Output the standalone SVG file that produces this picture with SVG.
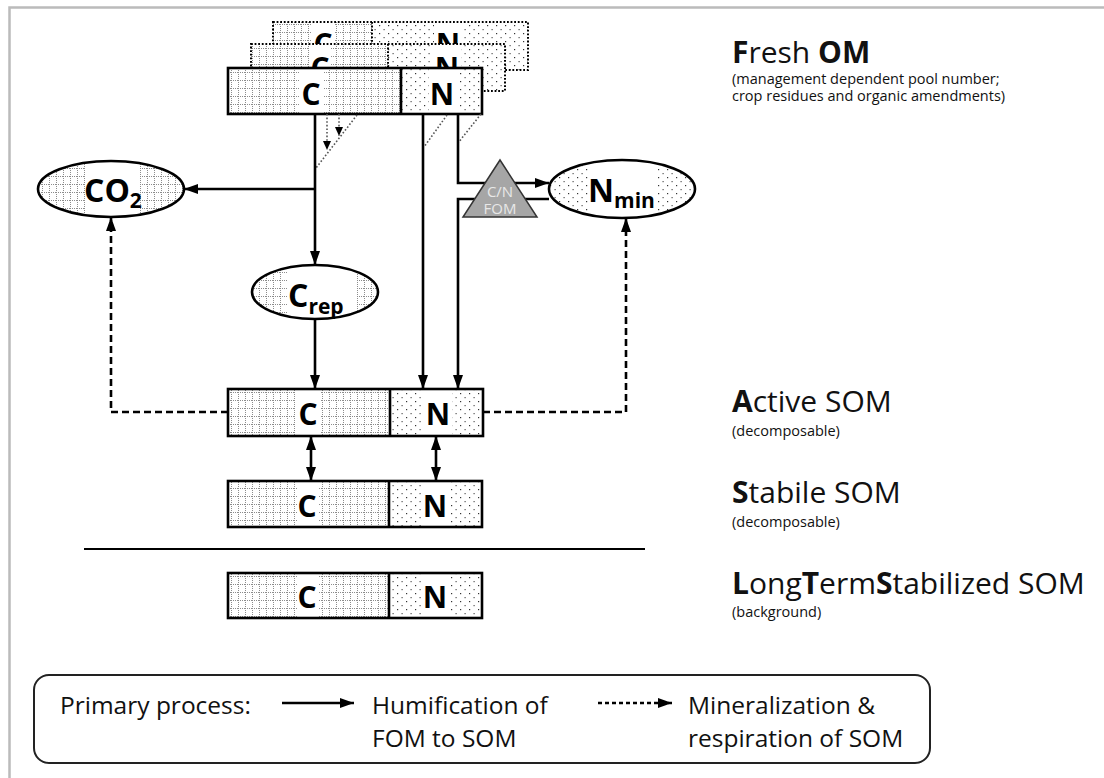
<svg xmlns="http://www.w3.org/2000/svg" width="1104" height="778" viewBox="0 0 1104 778">
<defs>
<style>
text{font-family:'Open Sans','Noto Sans','Liberation Sans',sans-serif;fill:#111}
.lbl{font-weight:bold;font-size:30px;text-anchor:middle;fill:#000}
.sub{font-weight:bold;font-size:21px;fill:#000}
.title{font-size:30px}
.note{font-size:14.5px}
.leg{font-size:24.5px}
.b{font-weight:bold}
.box{stroke:#000;stroke-width:2.6;fill:none}
.back{stroke:#000;stroke-width:2;stroke-dasharray:1.8 1.8;fill:none}
.wh{fill:#fff}
.con{fill:none;stroke:#000;stroke-width:2.6}
.dash{fill:none;stroke:#000;stroke-width:2.6;stroke-dasharray:7 4}
.dot{fill:none;stroke:#555;stroke-width:1.6;stroke-dasharray:1.6 2}
.ell{stroke:#000;stroke-width:2.6;fill:none}
</style>
<pattern id="grid" width="7" height="8" patternUnits="userSpaceOnUse">
<rect width="7" height="8" fill="#fff"/>
<path d="M0 0.5H7M0.5 0V8" stroke="#8c8c8c" stroke-width="1" stroke-dasharray="1 1"/>
</pattern>
<pattern id="dots" width="9" height="8" patternUnits="userSpaceOnUse">
<rect width="9" height="8" fill="#fff"/>
<rect x="1" y="1" width="1.2" height="1.2" fill="#333"/>
<rect x="5.5" y="5" width="1.2" height="1.2" fill="#555"/>
</pattern>
<marker id="ah" viewBox="0 0 14 10" refX="14" refY="5" markerWidth="14" markerHeight="10" markerUnits="userSpaceOnUse" orient="auto-start-reverse">
<path d="M0,0L14,5L0,10z" fill="#000"/>
</marker>
<marker id="ahs" viewBox="0 0 9 8" refX="9" refY="4" markerWidth="9" markerHeight="8" markerUnits="userSpaceOnUse" orient="auto">
<path d="M0,0L9,4L0,8z" fill="#000"/>
</marker>
<clipPath id="cpCO2"><ellipse cx="111" cy="189" rx="73" ry="28"/></clipPath>
<clipPath id="cpCrep"><ellipse cx="315" cy="292" rx="63" ry="27"/></clipPath>
<clipPath id="cpNmin"><ellipse cx="622" cy="189" rx="73" ry="29"/></clipPath>
</defs>

<rect width="1104" height="778" fill="#fff"/>
<g id="frame">
<path d="M9.5 778V7.5H1104" fill="none" stroke="#bbb" stroke-width="2.5"/>
</g>

<g id="fresh-om">
<!-- back pool 3 -->
<rect x="273" y="22" width="99" height="48" fill="url(#grid)"/>
<rect x="372" y="22" width="156" height="48" fill="url(#dots)"/>
<rect class="wh" x="312" y="22" width="22" height="48"/>
<rect class="wh" x="434" y="22" width="28" height="48"/>
<text class="lbl" x="323" y="55">C</text>
<text class="lbl" x="448" y="55">N</text>
<rect class="back" x="273" y="22" width="255" height="48"/>
<path class="back" d="M372 22V70"/>
<!-- back pool 2 -->
<rect x="251" y="44" width="137" height="47" fill="url(#grid)"/>
<rect x="388" y="44" width="117" height="47" fill="url(#dots)"/>
<rect class="wh" x="309" y="44" width="22" height="47"/>
<rect class="wh" x="433" y="44" width="28" height="47"/>
<text class="lbl" x="320" y="79">C</text>
<text class="lbl" x="447" y="79">N</text>
<rect class="back" x="251" y="44" width="254" height="47"/>
<path class="back" d="M388 44V91"/>
<!-- front pool -->
<rect x="228" y="68" width="173" height="46" fill="url(#grid)"/>
<rect x="401" y="68" width="81" height="46" fill="url(#dots)"/>
<rect class="wh" x="300" y="68" width="23" height="46"/>
<rect class="wh" x="429" y="68" width="28" height="46"/>
<text class="lbl" x="311" y="105">C</text>
<text class="lbl" x="442" y="105">N</text>
<rect class="box" x="228" y="68" width="254" height="46" stroke-width="3"/>
<path class="box" d="M401 68V114"/>
<!-- perspective lines -->
<path class="dot" d="M357 115L316 168M447 115L424 147M481 114L458 143"/>
</g>

<g id="connectors">
<path class="con" d="M315 114V265" marker-end="url(#ah)"/>
<path class="con" d="M315 189H184" marker-end="url(#ah)"/>
<path class="con" d="M315 319V389" marker-end="url(#ah)"/>
<path class="con" d="M423 114V389" marker-end="url(#ah)"/>
<path class="con" d="M458 114V183H549" marker-end="url(#ah)"/>
<path class="con" d="M549 199H458V389" marker-end="url(#ah)"/>
<path class="dash" d="M228 412H111V217" marker-end="url(#ah)"/>
<path class="dash" d="M483 412H626V218" marker-end="url(#ah)"/>
<path class="con" d="M311 436V481" marker-start="url(#ah)" marker-end="url(#ah)"/>
<path class="con" d="M436 436V481" marker-start="url(#ah)" marker-end="url(#ah)"/>
<path class="dot" d="M327 114V150" marker-end="url(#ahs)"/>
<path class="dot" d="M339 114V136" marker-end="url(#ahs)"/>
</g>

<g id="co2">
<ellipse cx="111" cy="189" rx="73" ry="28" fill="url(#grid)"/>
<rect class="wh" x="85" y="150" width="55" height="80" clip-path="url(#cpCO2)"/>
<text x="84" y="202" style="font-weight:bold;font-size:32px;fill:#000">CO<tspan class="sub" dy="6">2</tspan></text>
<ellipse class="ell" cx="111" cy="189" rx="73" ry="28"/>
</g>

<g id="crep">
<ellipse cx="315" cy="292" rx="63" ry="27" fill="url(#grid)"/>
<rect class="wh" x="287" y="260" width="70" height="70" clip-path="url(#cpCrep)"/>
<text x="288" y="307" style="font-weight:bold;font-size:32px;fill:#000">C<tspan class="sub" dy="7">rep</tspan></text>
<ellipse class="ell" cx="315" cy="292" rx="63" ry="27"/>
</g>

<g id="nmin">
<ellipse cx="622" cy="189" rx="73" ry="29" fill="url(#dots)"/>
<rect class="wh" x="588" y="155" width="70" height="70" clip-path="url(#cpNmin)"/>
<text x="588" y="202" style="font-weight:bold;font-size:32px;fill:#000">N<tspan class="sub" dy="6">min</tspan></text>
<ellipse class="ell" cx="622" cy="189" rx="73" ry="29"/>
</g>

<g id="cn-fom">
<path d="M500 160L537 217H463z" fill="#a6a6a6" stroke="#333" stroke-width="1.5"/>
<text x="500" y="197" text-anchor="middle" style="font-size:15px;fill:#e8e8e8">C/N</text>
<text x="500" y="214" text-anchor="middle" style="font-size:15px;fill:#e8e8e8">FOM</text>
</g>

<g id="active-som">
<rect x="228" y="389" width="162" height="47" fill="url(#grid)"/>
<rect x="390" y="389" width="93" height="47" fill="url(#dots)"/>
<rect class="wh" x="296" y="389" width="24" height="47"/>
<rect class="wh" x="424" y="389" width="28" height="47"/>
<text class="lbl" x="308" y="425">C</text>
<text class="lbl" x="438" y="425">N</text>
<rect class="box" x="228" y="389" width="255" height="47"/>
<path class="box" d="M390 389V436"/>
</g>

<g id="stable-som">
<rect x="228" y="481" width="161" height="46" fill="url(#grid)"/>
<rect x="389" y="481" width="93" height="46" fill="url(#dots)"/>
<rect class="wh" x="297" y="481" width="22" height="46"/>
<rect class="wh" x="421" y="481" width="29" height="46"/>
<text class="lbl" x="307" y="517">C</text>
<text class="lbl" x="435" y="517">N</text>
<rect class="box" x="228" y="481" width="254" height="46"/>
<path class="box" d="M389 481V527"/>
</g>

<g id="separator">
<path d="M84 549H645" stroke="#000" stroke-width="2"/>
</g>

<g id="lts-som">
<rect x="228" y="573" width="161" height="45" fill="url(#grid)"/>
<rect x="389" y="573" width="93" height="45" fill="url(#dots)"/>
<rect class="wh" x="297" y="573" width="22" height="45"/>
<rect class="wh" x="421" y="573" width="29" height="45"/>
<text class="lbl" x="307" y="608">C</text>
<text class="lbl" x="435" y="608">N</text>
<rect class="box" x="228" y="573" width="254" height="45"/>
<path class="box" d="M389 573V618"/>
</g>

<g id="labels">
<text class="title" x="732" y="63"><tspan class="b">F</tspan>resh <tspan class="b">OM</tspan></text>
<text class="note" x="732" y="84">(management dependent pool number;</text>
<text class="note" x="732" y="101">crop residues and organic amendments)</text>
<text class="title" x="732" y="412"><tspan class="b">A</tspan>ctive SOM</text>
<text class="note" x="732" y="436">(decomposable)</text>
<text class="title" x="732" y="503"><tspan class="b">S</tspan>tabile SOM</text>
<text class="note" x="732" y="527">(decomposable)</text>
<text class="title" x="732" y="594"><tspan class="b">L</tspan>ong<tspan class="b">T</tspan>erm<tspan class="b">S</tspan>tabilized SOM</text>
<text class="note" x="732" y="617">(background)</text>
</g>

<g id="legend">
<rect x="34" y="675" width="896" height="88" rx="15" fill="#fff" stroke="#222" stroke-width="2"/>
<text class="leg" x="60" y="714">Primary process:</text>
<path class="con" d="M282 703H354" marker-end="url(#ah)"/>
<text class="leg" x="372" y="714">Humification of</text>
<text class="leg" x="372" y="747">FOM to SOM</text>
<path d="M598 703H672" fill="none" stroke="#000" stroke-width="2.6" stroke-dasharray="4 3" marker-end="url(#ah)"/>
<text class="leg" x="688" y="714">Mineralization &amp;</text>
<text class="leg" x="688" y="747">respiration of SOM</text>
</g>
</svg>
